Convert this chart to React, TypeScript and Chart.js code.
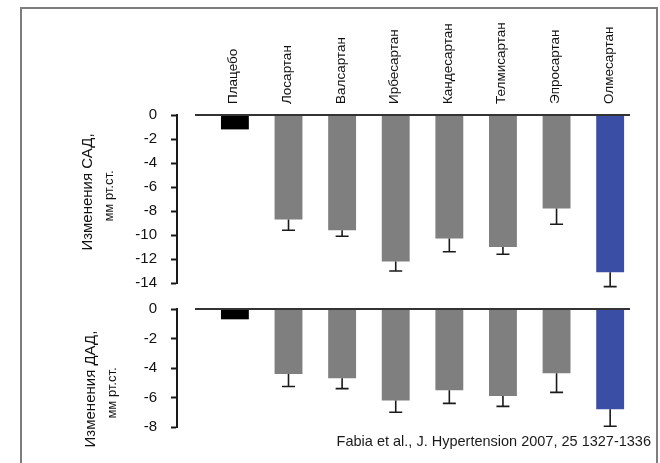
import React, { useEffect, useRef } from "react";
import { Chart, registerables } from "chart.js";

Chart.register(...registerables);

const categories = [
  "Плацебо",
  "Лосартан",
  "Валсартан",
  "Ирбесартан",
  "Кандесартан",
  "Телмисартан",
  "Эпросартан",
  "Олмесартан",
];
const sbpChange = [-1.2, -8.7, -9.6, -12.2, -10.3, -11.0, -7.8, -13.1];
const sbpError = [0, 0.9, 0.5, 0.8, 1.1, 0.6, 1.3, 1.2];
const dbpChange = [-0.7, -4.4, -4.7, -6.2, -5.5, -5.9, -4.35, -6.8];
const dbpError = [0, 0.85, 0.7, 0.8, 0.9, 0.7, 1.3, 1.15];
const sbpTicks = [0, -2, -4, -6, -8, -10, -12, -14];
const dbpTicks = [0, -2, -4, -6, -8];
const barColors = ["#000000", "#7f7f7f", "#7f7f7f", "#7f7f7f", "#7f7f7f", "#7f7f7f", "#7f7f7f", "#3a4ea6"];
const sbpTitle = ["Изменения САД,", "мм рт.ст."];
const dbpTitle = ["Изменения ДАД,", "мм рт.ст."];
const sourceText = "Fabia et al., J. Hypertension 2007, 25 1327-1336";

const FONT = "'Liberation Sans', Arial, sans-serif";

function makeErrorPlugin(errors: number[]) {
  return {
    id: "errBars",
    afterDatasetsDraw(chart: any) {
      const ctx = chart.ctx;
      const meta = chart.getDatasetMeta(0);
      const ys = chart.scales.y;
      const vals = chart.data.datasets[0].data as any[];
      ctx.save();
      ctx.strokeStyle = "#1a1a1a";
      ctx.lineWidth = 1.6;
      meta.data.forEach((bar: any, i: number) => {
        const e = errors[i];
        if (!e) return;
        const v = vals[i].y;
        const y0 = ys.getPixelForValue(v);
        const y1 = ys.getPixelForValue(v - e);
        ctx.beginPath();
        ctx.moveTo(bar.x, y0);
        ctx.lineTo(bar.x, y1);
        ctx.moveTo(bar.x - 6.5, y1);
        ctx.lineTo(bar.x + 6.5, y1);
        ctx.stroke();
      });
      ctx.restore();
    },
  };
}

const zeroLinePlugin = {
  id: "zeroLine",
  afterDatasetsDraw(chart: any) {
    const ctx = chart.ctx;
    const y = chart.scales.y.getPixelForValue(0);
    ctx.save();
    ctx.strokeStyle = "#333";
    ctx.lineWidth = 2;
    ctx.beginPath();
    ctx.moveTo(chart.chartArea.left + 18, y);
    ctx.lineTo(chart.chartArea.right, y);
    ctx.stroke();
    ctx.restore();
  },
};

function makeTitlePlugin(lines: string[], xs: number[], cy: number[]) {
  return {
    id: "yTitle",
    afterDraw(chart: any) {
      const ctx = chart.ctx;
      lines.forEach((t, i) => {
        ctx.save();
        ctx.translate(xs[i], cy[i]);
        ctx.rotate(-Math.PI / 2);
        ctx.font = (i === 0 ? "15px " : "13px ") + FONT;
        ctx.fillStyle = "#111";
        ctx.textAlign = "center";
        ctx.textBaseline = "middle";
        ctx.fillText(t, 0, 0);
        ctx.restore();
      });
    },
  };
}

function zeroPad(scale: any) {
  scale.paddingTop = 0;
  scale.paddingBottom = 0;
  scale.paddingLeft = 0;
  scale.paddingRight = 0;
}

function buildConfig(
  values: number[],
  errors: number[],
  ticks: number[],
  showCats: boolean,
  padding: any,
  topHeight: number,
  title: any
): any {
  return {
    type: "bar",
    data: {
      datasets: [
        {
          data: values.map((v, i) => ({ x: i, y: v })),
          backgroundColor: barColors,
          borderWidth: 0,
          barPercentage: 0.52,
          categoryPercentage: 1,
        },
      ],
    },
    options: {
      animation: false,
      responsive: false,
      maintainAspectRatio: false,
      layout: { padding },
      plugins: { legend: { display: false }, tooltip: { enabled: false } },
      scales: {
        x: {
          type: "linear",
          position: "top",
          display: showCats,
          offset: false,
          min: -1.08,
          max: 7.37,
          afterBuildTicks: (axis: any) => {
            axis.ticks = categories.map((_, i) => ({ value: i }));
          },
          afterFit: (scale: any) => {
            scale.height = topHeight;
            zeroPad(scale);
          },
          grid: { display: false, drawTicks: false, offset: false },
          border: { display: false },
          ticks: {
            autoSkip: false,
            minRotation: 90,
            maxRotation: 90,
            padding: 11,
            labelOffset: 15,
            color: "#111",
            font: { family: FONT, size: 13.5 },
            callback: (v: any) => categories[v] ?? "",
          },
        },
        y: {
          type: "linear",
          min: ticks[ticks.length - 1],
          max: 0,
          afterBuildTicks: (axis: any) => {
            axis.ticks = ticks.map((t) => ({ value: t }));
          },
          afterFit: (scale: any) => {
            scale.width = 177 - (padding.left || 0);
            zeroPad(scale);
          },
          grid: {
            drawOnChartArea: false,
            drawTicks: true,
            tickLength: 6,
            tickWidth: 2,
            tickColor: "#1a1a1a",
          },
          border: { display: true, width: 2, color: "#1a1a1a" },
          ticks: {
            padding: 14,
            color: "#111",
            font: { family: FONT, size: 15 },
            callback: (v: any) => String(v),
          },
        },
      },
    },
    plugins: [makeErrorPlugin(errors), zeroLinePlugin, title],
  };
}

export default function App() {
  const topRef = useRef<HTMLCanvasElement | null>(null);
  const botRef = useRef<HTMLCanvasElement | null>(null);

  useEffect(() => {
    const c1 = new Chart(
      topRef.current as HTMLCanvasElement,
      buildConfig(
        sbpChange,
        sbpError,
        sbpTicks,
        true,
        { left: 0, top: 0, right: 30, bottom: 17 },
        115,
        makeTitlePlugin(sbpTitle, [88, 109], [192, 196])
      )
    );
    const c2 = new Chart(
      botRef.current as HTMLCanvasElement,
      buildConfig(
        dbpChange,
        dbpError,
        dbpTicks,
        false,
        { left: 0, top: 19, right: 30, bottom: 36 },
        0,
        makeTitlePlugin(dbpTitle, [91, 112], [99, 103])
      )
    );
    return () => {
      c1.destroy();
      c2.destroy();
    };
  }, []);

  return (
    <div
      style={{
        position: "fixed",
        left: 0,
        top: 0,
        width: 660,
        height: 463,
        overflow: "hidden",
        background: "#fff",
      }}
    >
      <div
        style={{
          position: "absolute",
          left: 20,
          top: 7,
          width: 634,
          height: 500,
          borderTop: "2px solid #7d7d7d",
          borderLeft: "2px solid #7d7d7d",
          borderRight: "2px solid #7d7d7d",
        }}
      />
      <canvas
        ref={topRef}
        width={660}
        height={300}
        style={{ position: "absolute", left: 0, top: 0, width: 660, height: 300 }}
      />
      <canvas
        ref={botRef}
        width={660}
        height={173}
        style={{ position: "absolute", left: 0, top: 290, width: 660, height: 173 }}
      />
      <div
        style={{
          position: "absolute",
          right: 9,
          top: 432,
          fontFamily: FONT,
          fontSize: 14.5,
          color: "#1a1a1a",
          whiteSpace: "nowrap",
          lineHeight: "18px",
        }}
      >
        {sourceText}
      </div>
    </div>
  );
}
